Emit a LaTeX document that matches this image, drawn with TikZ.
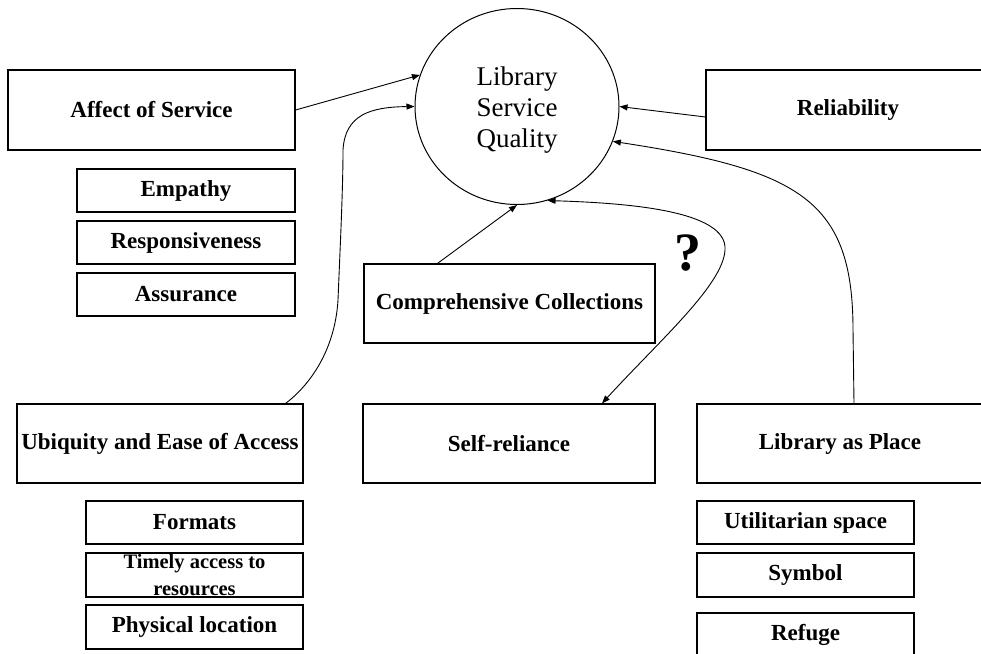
\documentclass[tikz,border=0pt]{standalone}
\usepackage{fontspec}
\setmainfont{Liberation Serif}
\usetikzlibrary{shapes.geometric,arrows.meta,calc}
\tikzset{
  box/.style={draw, line width=1.2pt, inner sep=0pt, font=\fontsize{23}{26}\selectfont\bfseries},
  arr/.style={line width=0.9pt, -{Triangle[length=8pt,width=6pt]}},
  biarr/.style={line width=0.9pt, {Triangle[length=8pt,width=6pt]}-{Triangle[length=8pt,width=6pt]}},
}
\begin{document}
\begin{tikzpicture}[x=1pt,y=-1pt]
\useasboundingbox (0,0) rectangle (981,653);
\clip (0,0) rectangle (981,653);
\fill[white] (0,0) rectangle (981,653);

\node[draw, line width=1pt, ellipse, minimum width=204pt, minimum height=196pt, inner sep=0pt] (circ) at (517,106.5) {};
\node[inner sep=0pt, align=center, font=\fontsize{27}{31}\selectfont] (circtxt) at (517,110) {Library\\Service\\Quality};

\node[box, minimum width=287pt, minimum height=80pt] (affect) at (151.5,110) {Affect of Service};
\node[box, minimum width=218pt, minimum height=43pt] (empathy) at (186,190.5) {Empathy};
\node[box, minimum width=218pt, minimum height=43pt] (resp) at (186,242.5) {Responsiveness};
\node[box, minimum width=218pt, minimum height=43pt] (assur) at (186,294.5) {Assurance};

\node[box, minimum width=284pt, minimum height=80pt] (rel) at (848,110) {Reliability};

\node[box, minimum width=291pt, minimum height=79pt] (comp) at (509.5,303.5) {Comprehensive Collections};

\node[box, minimum width=286pt, minimum height=79pt] (ubiq) at (160,443.5) {Ubiquity and Ease of Access};
\node[box, minimum width=292pt, minimum height=79pt] (self) at (509,443.5) {Self-reliance};
\node[box, minimum width=286pt, minimum height=79pt] (lap) at (840,443.5) {Library as Place};

\node[box, minimum width=217pt, minimum height=43pt] (formats) at (194.5,522.5) {Formats};
\node[box, minimum width=217pt, minimum height=44pt] (timely) at (194.5,575) {};
\node[inner sep=0pt, align=center, font=\fontsize{20.5}{27}\selectfont\bfseries] (timelytxt) at (194.5,575) {Timely access to\\resources};
\node[box, minimum width=217pt, minimum height=44pt] (phys) at (194.5,627) {Physical location};

\node[box, minimum width=217pt, minimum height=43pt] (util) at (805.5,522.5) {Utilitarian space};
\node[box, minimum width=217pt, minimum height=44pt] (symbol) at (805.5,575) {Symbol};
\node[box, minimum width=217pt, minimum height=44pt] (refuge) at (805.5,635) {Refuge};

\node[font=\fontsize{54}{58}\selectfont\bfseries, inner sep=0pt] (q) at (688,253) {?};

% connectors
\draw[arr] (affect.east) -- (circ.162);
\draw[arr] (rel.west) ++(0,7) -- (circ.east);
\draw[arr] ([xshift=-72pt]comp.north) -- (circ.south);
\draw[arr] ([xshift=-18pt]ubiq.north east) .. controls (310,385) and (335,350) .. (338,300)
   .. controls (340,250) and (343,190) .. (343,150)
   .. controls (345,115) and (370,107) .. (circ.180);
\draw[arr] ([xshift=14pt]lap.north) -- (853,330) .. controls (853,200) and (800,170) .. (circ.-20);
\draw[biarr] (circ.-72) .. controls (625,203) and (728,210) .. (725,250)
   .. controls (723,285) and (660,340) .. ([xshift=93pt]self.north);
\end{tikzpicture}
\end{document}
